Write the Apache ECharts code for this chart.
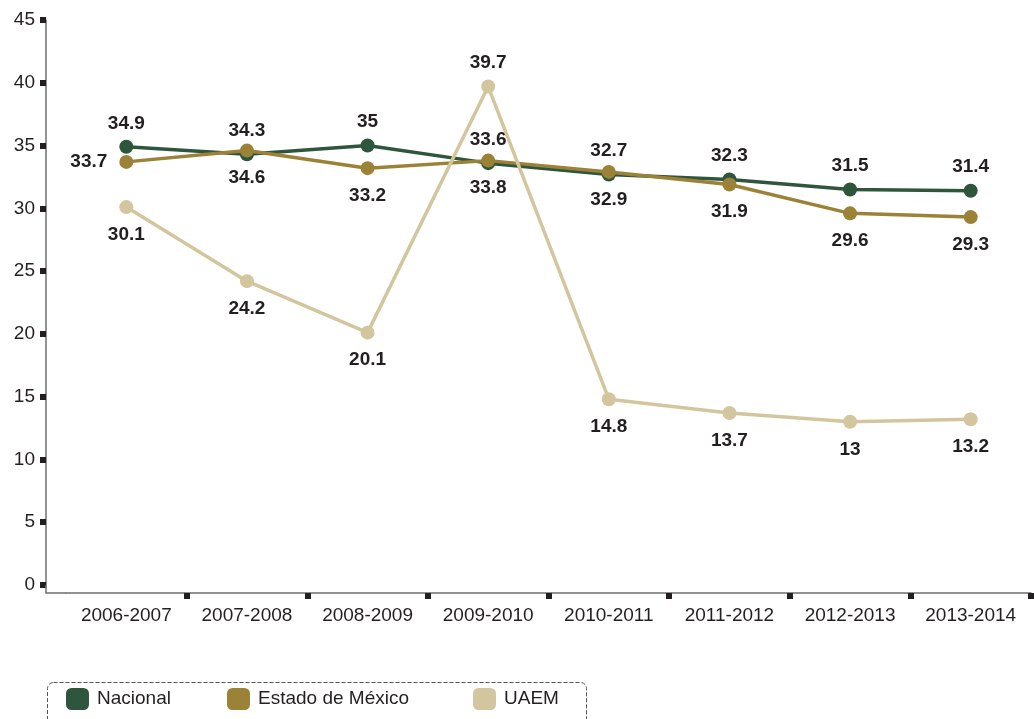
<!DOCTYPE html>
<html>
<head>
<meta charset="utf-8">
<script src="https://cdn.jsdelivr.net/npm/echarts@6/dist/echarts.min.js"></script>
<style>
  html, body { margin: 0; padding: 0; background: #fff; }
  #chart { width: 1034px; height: 719px; }
</style>
</head>
<body>
<div id="chart"></div>
<script>
// School years on the horizontal axis
const categories = ['2006-2007', '2007-2008', '2008-2009', '2009-2010',
                    '2010-2011', '2011-2012', '2012-2013', '2013-2014'];

// Series values
const nacional = [34.9, 34.3, 35, 33.6, 32.7, 32.3, 31.5, 31.4];
const estadoMexico = [33.7, 34.6, 33.2, 33.8, 32.9, 31.9, 29.6, 29.3];
const uaem = [30.1, 24.2, 20.1, 39.7, 14.8, 13.7, 13, 13.2];

// Vertical axis range
const yMin = 0, yMax = 45, yStep = 5;

const seriesNames = ['Nacional', 'Estado de México', 'UAEM'];
const colors = ['#2e563c', '#9b8237', '#d3c69e'];
const ink = '#231f20';
const axisGrey = '#6d6e71';
const fontFamily = 'Liberation Sans, Arial, sans-serif';

const labelFont = {
  fontFamily: fontFamily,
  fontWeight: 'bold',
  fontSize: 19,
  color: ink
};

// Build data items with per-point label placement
function points(values, defaultPos, overrides) {
  return values.map((v, i) => {
    const pos = overrides[i] || defaultPos;
    const dist = pos === 'left' ? 12 : (pos === 'top' ? 7 : 11);
    return { value: v, label: { position: pos, distance: dist } };
  });
}

function lineSeries(idx, data) {
  return {
    name: seriesNames[idx],
    type: 'line',
    data: data,
    symbol: 'circle',
    symbolSize: 14,
    lineStyle: { color: colors[idx], width: 3.5 },
    itemStyle: { color: colors[idx] },
    label: Object.assign({ show: true }, labelFont),
    emphasis: { disabled: true },
    animation: false,
    z: 2 + idx
  };
}

function legendAt(left, idx) {
  return {
    left: left,
    top: 688,
    padding: 0,
    itemWidth: 23,
    itemHeight: 22,
    itemGap: 0,
    icon: 'roundRect',
    selectedMode: false,
    data: [seriesNames[idx]],
    textStyle: { fontFamily: fontFamily, fontSize: 19, color: ink, padding: [0, 0, 0, 3] }
  };
}

const chart = echarts.init(document.getElementById('chart'), null, { renderer: 'canvas' });

chart.setOption({
  backgroundColor: '#ffffff',
  animation: false,
  grid: { left: 66, right: 3, top: 20, bottom: 134, containLabel: false },
  xAxis: {
    type: 'category',
    data: categories,
    boundaryGap: true,
    offset: 8,
    axisLine: { show: true, onZero: false, lineStyle: { color: axisGrey, width: 1.5 } },
    axisTick: {
      show: true,
      length: 6,
      interval: (index) => index !== 0,
      lineStyle: { color: ink, width: 6 }
    },
    axisLabel: { margin: 13, fontFamily: fontFamily, fontSize: 19, color: ink },
    splitLine: { show: false }
  },
  yAxis: {
    type: 'value',
    min: yMin,
    max: yMax,
    interval: yStep,
    offset: 20,
    axisLine: { show: true, lineStyle: { color: axisGrey, width: 1.5 } },
    axisTick: { show: true, length: 6, lineStyle: { color: ink, width: 6 } },
    axisLabel: { margin: 11, fontFamily: fontFamily, fontSize: 19, color: ink },
    splitLine: { show: false }
  },
  legend: [legendAt(66, 0), legendAt(227, 1), legendAt(473, 2)],
  series: [
    lineSeries(0, points(nacional, 'top', {})),
    lineSeries(1, points(estadoMexico, 'bottom', { 0: 'left' })),
    lineSeries(2, points(uaem, 'bottom', { 3: 'top' }))
  ],
  graphic: [
    // Dashed frame around the legend
    {
      type: 'rect',
      shape: { x: 47.5, y: 682.5, width: 539, height: 60, r: 6 },
      style: { fill: 'none', stroke: '#555', lineWidth: 1, lineDash: [4, 2] },
      silent: true,
      z: 0
    },
    // Join the vertical axis to the offset horizontal axis
    {
      type: 'polyline',
      shape: { points: [[46, 585], [46, 593], [66, 593]] },
      style: { stroke: axisGrey, lineWidth: 1.5, fill: 'none' },
      silent: true,
      z: 1
    }
  ]
});
</script>
</body>
</html>
